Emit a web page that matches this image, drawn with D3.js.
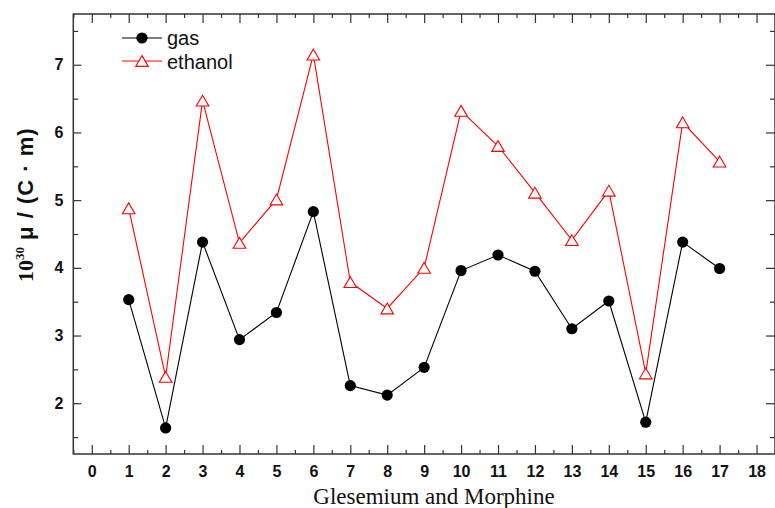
<!DOCTYPE html>
<html><head><meta charset="utf-8">
<script src="https://cdn.jsdelivr.net/npm/d3@7"></script>
<style>body{margin:0;background:#fff}svg{display:block}</style>
</head><body>
<svg id="c" width="775" height="508"></svg>
<script>
const categories = [1,2,3,4,5,6,7,8,9,10,11,12,13,14,15,16,17];
const gasValues = [3.53,1.635,4.38,2.94,3.34,4.83,2.26,2.12,2.53,3.96,4.19,3.95,3.10,3.51,1.72,4.38,3.99];
const ethanolValues = [4.88,2.39,6.47,4.37,5.01,7.15,3.79,3.40,4.00,6.32,5.80,5.11,4.41,5.14,2.44,6.15,5.57];
const xTicks = [0,1,2,3,4,5,6,7,8,9,10,11,12,13,14,15,16,17,18];
const yTicks = [2,3,4,5,6,7];
const seriesNames = ["gas","ethanol"];

const svg = d3.select("#c");
const x = d3.scaleLinear().domain([-0.5,18.5]).range([73.3,775]);
const y = d3.scaleLinear().domain([1.25,7.75]).range([454,14]);
const axisColor = "#333";

// triangle symbol centred on its bounding box
const tri = {draw(ctx,size){const w=6.3,h=5.4;ctx.moveTo(0,-h);ctx.lineTo(w,h);ctx.lineTo(-w,h);ctx.closePath();}};

const xMinor = d3.range(-0.5,18.6,0.5).filter(v=>!Number.isInteger(v));
const yMinor = d3.range(1.5,7.6,1);

function styleAxis(g){g.selectAll("path.domain").remove();g.selectAll("line").attr("stroke",axisColor).attr("stroke-width",1.2);}
const labelFont = "Arial, 'Liberation Sans', sans-serif";

// bottom
const gb = svg.append("g").attr("transform",`translate(0,${y(1.25)})`)
  .call(d3.axisBottom(x).tickValues(xTicks).tickSize(-9).tickPadding(12).tickFormat(d3.format("d")));
styleAxis(gb);
gb.selectAll("text").attr("font-family",labelFont).attr("font-weight","bold").attr("font-size","16px").attr("fill","#111");
svg.append("g").attr("transform",`translate(0,${y(1.25)})`).call(d3.axisBottom(x).tickValues(xMinor).tickSize(-4).tickFormat("")).call(styleAxis);
// top
svg.append("g").attr("transform",`translate(0,${y(7.75)})`).call(d3.axisTop(x).tickValues(xTicks).tickSize(-9).tickFormat("")).call(styleAxis);
svg.append("g").attr("transform",`translate(0,${y(7.75)})`).call(d3.axisTop(x).tickValues(xMinor).tickSize(-4).tickFormat("")).call(styleAxis);
// left
const gl = svg.append("g").attr("transform",`translate(${x(-0.5)},0)`)
  .call(d3.axisLeft(y).tickValues(yTicks).tickSize(-8).tickPadding(10).tickFormat(d3.format("d")));
styleAxis(gl);
gl.selectAll("text").attr("font-family",labelFont).attr("font-weight","bold").attr("font-size","16px").attr("fill","#111");
svg.append("g").attr("transform",`translate(${x(-0.5)},0)`).call(d3.axisLeft(y).tickValues(yMinor).tickSize(-5).tickFormat("")).call(styleAxis);
// right
svg.append("g").attr("transform",`translate(${x(18.5)},0)`).call(d3.axisRight(y).tickValues(yTicks).tickSize(-9).tickFormat("")).call(styleAxis);
svg.append("g").attr("transform",`translate(${x(18.5)},0)`).call(d3.axisRight(y).tickValues(yMinor).tickSize(-5).tickFormat("")).call(styleAxis);

// frame
svg.append("rect").attr("x",x(-0.5)).attr("y",y(7.75)).attr("width",x(18.5)-x(-0.5)).attr("height",y(1.25)-y(7.75))
  .attr("fill","none").attr("stroke",axisColor).attr("stroke-width",1.5);

// lines
const line = d3.line().x((d,i)=>x(categories[i])).y(d=>y(d));
svg.append("path").datum(ethanolValues).attr("d",line).attr("fill","none").attr("stroke","#ff0000").attr("stroke-width",1.1);
svg.append("path").datum(gasValues).attr("d",line).attr("fill","none").attr("stroke","#000").attr("stroke-width",1.1);

svg.append("g").selectAll("path").data(ethanolValues).join("path")
  .attr("transform",(d,i)=>`translate(${x(categories[i])},${y(d)})`)
  .attr("d",d3.symbol().type(tri)()).attr("fill","#fff").attr("stroke","#ff0000").attr("stroke-width",1.1);
svg.append("g").selectAll("circle").data(gasValues).join("circle")
  .attr("cx",(d,i)=>x(categories[i])).attr("cy",d=>y(d)).attr("r",5.6).attr("fill","#000");

// legend
const lg = svg.append("g");
lg.append("line").attr("x1",122).attr("x2",162).attr("y1",38).attr("y2",38).attr("stroke","#000").attr("stroke-width",1.1);
lg.append("circle").attr("cx",142).attr("cy",38).attr("r",5.6).attr("fill","#000");
lg.append("line").attr("x1",122).attr("x2",162).attr("y1",61).attr("y2",61).attr("stroke","#ff0000").attr("stroke-width",1.1);
lg.append("path").attr("transform","translate(142,61)").attr("d",d3.symbol().type(tri)()).attr("fill","#fff").attr("stroke","#ff0000").attr("stroke-width",1.1);
lg.selectAll("text").data(seriesNames).join("text").attr("x",167).attr("y",(d,i)=>38+i*23.5).attr("dy","0.35em")
  .attr("font-family",labelFont).attr("font-size","20px").attr("fill","#111").text(d=>d);

// x title
svg.append("text").attr("x",434).attr("y",504).attr("text-anchor","middle")
  .attr("font-family","'Times New Roman','Liberation Serif',serif").attr("font-size","23px").attr("fill","#111")
  .text("Glesemium and Morphine");

// y title
const yt = svg.append("text").attr("transform","translate(33,282) rotate(-90)").attr("fill","#111");
yt.append("tspan").attr("font-family","'Times New Roman','Liberation Serif',serif").attr("font-weight","bold").attr("font-size","22px").text("10");
yt.append("tspan").attr("font-family","'Times New Roman','Liberation Serif',serif").attr("font-weight","bold").attr("font-size","13px").attr("dy",-9).text("30");
yt.append("tspan").attr("font-family",labelFont).attr("font-weight","bold").attr("font-size","22px").attr("letter-spacing","1px").attr("dy",9).text(" μ / (C · m)");
</script>
</body></html>
